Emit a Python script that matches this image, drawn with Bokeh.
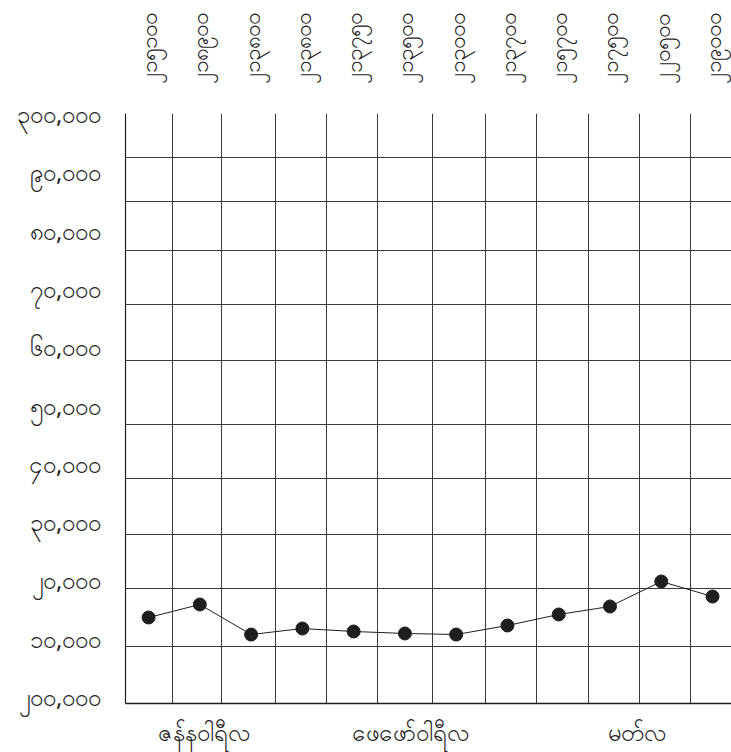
from bokeh.plotting import figure
from bokeh.embed import file_html
from bokeh.resources import INLINE
from bokeh.models import LinearAxis, FixedTicker, Range1d, Grid, ColumnDataSource

# ---- data ----
weeks = list(range(12))
values = [213550, 215780, 210630, 211660, 211150, 210810, 210630, 212180, 214070, 215440, 219730, 217150]
top_labels = ["၂၁၅၁၀၀", "၂၁၈၉၀၀", "၂၁၃၈၀၀", "၂၁၃၈၀၀", "၂၁၃၇၅၀", "၂၁၃၅၀၀",
              "၂၁၃၀၀၀", "၂၁၃၇၀၀", "၂၁၅၇၀၀", "၂၁၇၅၀၀", "၂၂၀၅၀၀", "၂၁၉၀၀၀"]
y_ticks = [200000, 210000, 220000, 230000, 240000, 250000, 260000, 270000, 280000, 290000, 300000]
y_tick_labels = ["၂၀၀,၀၀၀", "၁၀,၀၀၀", "၂၀,၀၀၀", "၃၀,၀၀၀", "၄၀,၀၀၀", "၅၀,၀၀၀",
                 "၆၀,၀၀၀", "၇၀,၀၀၀", "၈၀,၀၀၀", "၉၀,၀၀၀", "၃၀၀,၀၀၀"]
months = ["ဇန်နဝါရီလ", "ဖေဖော်ဝါရီလ", "မတ်လ"]

# ---- layout / style constants ----
month_pos = [1.582, 5.602, 10.027]
x_grid_pos = [0.967, 1.923, 2.977, 3.972, 4.967, 6.040, 7.074, 8.068, 9.083, 10.078, 11.073]
y_grid_pos = [292455, 284907, 276502, 267240, 257634, 246656, 237394, 227788, 218525, 208577]
INK = "#1e1e1e"
FONT = "Noto Sans"

xs = [w + 0.5 for w in weeks]
src = ColumnDataSource(dict(x=xs, y=values))

p = figure(width=731, height=752,
           x_range=Range1d(0.05, 11.87), y_range=Range1d(198800, 300000),
           output_backend="svg", toolbar_location=None,
           x_axis_location=None, y_axis_location=None,
           min_border_left=125, min_border_top=113, min_border_right=0, min_border_bottom=49)
p.outline_line_color = None
p.background_fill_color = "white"
p.border_fill_color = "white"
for g in p.grid:
    g.visible = False

def style_axis(ax, standoff, size):
    ax.major_tick_line_color = None
    ax.minor_tick_line_color = None
    ax.major_label_text_font = FONT
    ax.major_label_text_font_size = size
    ax.major_label_text_color = INK
    ax.major_label_standoff = standoff

left = LinearAxis(ticker=FixedTicker(ticks=y_ticks),
                  major_label_overrides={t: l for t, l in zip(y_ticks, y_tick_labels)})
style_axis(left, 18, "24px")
left.axis_line_color = INK
left.axis_line_width = 1.2
p.add_layout(left, "left")

top = LinearAxis(ticker=FixedTicker(ticks=xs),
                 major_label_overrides={x: l for x, l in zip(xs, top_labels)})
style_axis(top, 24, "22.5px")
top.axis_line_color = None
top.major_label_orientation = "vertical"
p.add_layout(top, "above")

bottom = LinearAxis(ticker=FixedTicker(ticks=month_pos),
                    major_label_overrides={m: l for m, l in zip(month_pos, months)})
style_axis(bottom, 5, "24px")
bottom.axis_line_color = INK
bottom.axis_line_width = 1.5
p.add_layout(bottom, "below")

p.add_layout(Grid(dimension=0, ticker=FixedTicker(ticks=x_grid_pos),
                  grid_line_color="#3a3a3a", grid_line_width=1))
p.add_layout(Grid(dimension=1, ticker=FixedTicker(ticks=y_grid_pos),
                  grid_line_color="#3a3a3a", grid_line_width=1))

p.line("x", "y", source=src, line_color=INK, line_width=1)
p.scatter("x", "y", source=src, size=13, fill_color=INK, line_color=INK)

open("out.html", "w").write(file_html(p, INLINE))
